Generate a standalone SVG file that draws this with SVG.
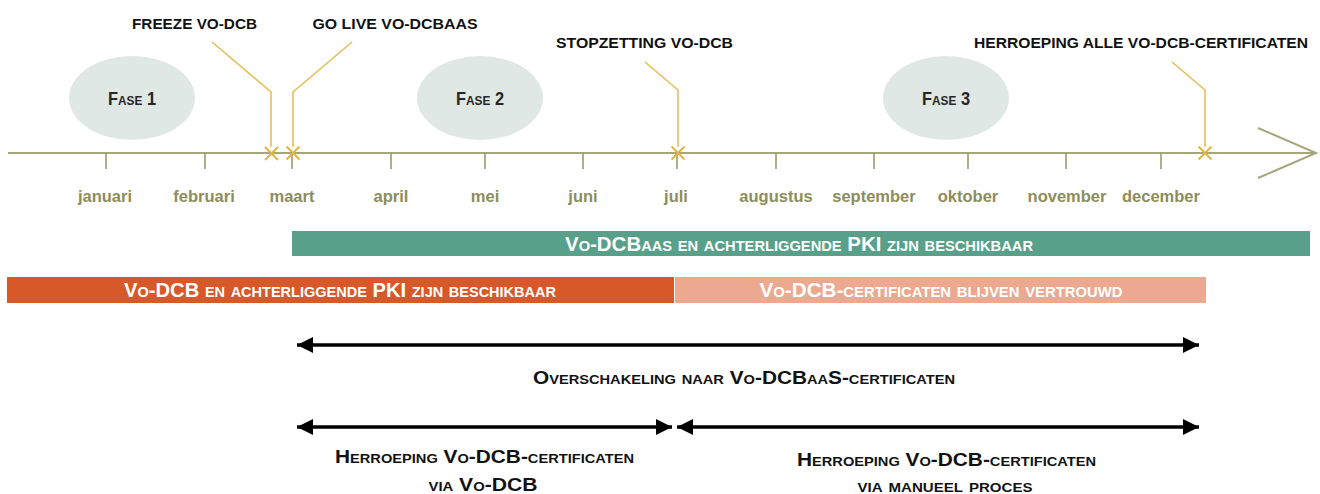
<svg xmlns="http://www.w3.org/2000/svg" width="1320" height="494" viewBox="0 0 1320 494">
<style>
.bg{fill:#ffffff}
.axis{stroke:#a4a67c;stroke-width:2;fill:none}
.tick{stroke:#9a9c6c;stroke-width:1.6}
.call{stroke:#e6bb52;stroke-width:1.5;fill:none}
.xm{stroke:#e3b444;stroke-width:2;fill:none}
.month{font-family:"Liberation Sans",Arial,sans-serif;font-weight:bold;font-size:16.5px;fill:#8c8d5a;text-anchor:middle}
.top{font-family:"Liberation Sans",Arial,sans-serif;font-weight:bold;font-size:15.5px;fill:#111111;text-anchor:middle}
.sc{font-family:"Liberation Sans",Arial,sans-serif;font-weight:bold;font-variant:small-caps;text-anchor:middle}
.fase{font-size:18px;fill:#262626}
.bar{font-size:19.5px;fill:#ffffff}
.lbl{font-size:18.5px;fill:#111111}
.ell{fill:#dfe8e4}
.arr{stroke:#000000;stroke-width:3.5;fill:none}
</style>
<defs>
<marker id="ah" markerUnits="userSpaceOnUse" markerWidth="16" markerHeight="16" refX="16" refY="8" orient="auto-start-reverse" viewBox="0 0 16 16">
<path d="M0,0 L16,8 L0,16 Z" fill="#000000"/>
</marker>
</defs>
<rect class="bg" x="0" y="0" width="1320" height="494"/>

<g id="phases">
<g id="fase1"><ellipse class="ell" cx="132" cy="98" rx="63" ry="42"/><text class="sc fase" x="132" y="104.5" textLength="48" lengthAdjust="spacingAndGlyphs">Fase 1</text></g>
<g id="fase2"><ellipse class="ell" cx="480" cy="98" rx="63" ry="42"/><text class="sc fase" x="480" y="104.5" textLength="48" lengthAdjust="spacingAndGlyphs">Fase 2</text></g>
<g id="fase3"><ellipse class="ell" cx="946" cy="98" rx="63" ry="42"/><text class="sc fase" x="946" y="104.5" textLength="48" lengthAdjust="spacingAndGlyphs">Fase 3</text></g>
</g>

<g id="timeline">
<line class="axis" x1="8" y1="153" x2="1316" y2="153"/>
<polyline class="axis" points="1258,128 1316,153 1258,178"/>
<g id="ticks">
<line class="tick" x1="106" y1="153" x2="106" y2="169"/>
<line class="tick" x1="205" y1="153" x2="205" y2="169"/>
<line class="tick" x1="292" y1="153" x2="292" y2="169"/>
<line class="tick" x1="391" y1="153" x2="391" y2="169"/>
<line class="tick" x1="485" y1="153" x2="485" y2="169"/>
<line class="tick" x1="583" y1="153" x2="583" y2="169"/>
<line class="tick" x1="677" y1="153" x2="677" y2="169"/>
<line class="tick" x1="776" y1="153" x2="776" y2="169"/>
<line class="tick" x1="874" y1="153" x2="874" y2="169"/>
<line class="tick" x1="968" y1="153" x2="968" y2="169"/>
<line class="tick" x1="1066" y1="153" x2="1066" y2="169"/>
<line class="tick" x1="1161" y1="153" x2="1161" y2="169"/>
</g>
<g id="months">
<text class="month" x="105" y="202">januari</text>
<text class="month" x="204" y="202">februari</text>
<text class="month" x="292" y="202">maart</text>
<text class="month" x="391" y="202">april</text>
<text class="month" x="485" y="202">mei</text>
<text class="month" x="583" y="202">juni</text>
<text class="month" x="676" y="202">juli</text>
<text class="month" x="776" y="202">augustus</text>
<text class="month" x="874" y="202">september</text>
<text class="month" x="968" y="202">oktober</text>
<text class="month" x="1067" y="202">november</text>
<text class="month" x="1161" y="202">december</text>
</g>
</g>

<g id="milestones">
<g id="freeze">
<polyline class="call" points="212,42 271,92 271,147"/>
<path class="xm" d="M265,147 L278,160 M278,147 L265,160"/>
<text class="top" x="194.5" y="28.5" textLength="125" lengthAdjust="spacingAndGlyphs">FREEZE VO-DCB</text>
</g>
<g id="golive">
<polyline class="call" points="352,42 293,92 293,147"/>
<path class="xm" d="M286.5,146.5 L299.5,159.5 M299.5,146.5 L286.5,159.5"/>
<text class="top" x="395" y="28.5" textLength="165" lengthAdjust="spacingAndGlyphs">GO LIVE VO-DCBAAS</text>
</g>
<g id="stopzetting">
<polyline class="call" points="645,62 678,90 678,147"/>
<path class="xm" d="M671.5,146.5 L684.5,159.5 M684.5,146.5 L671.5,159.5"/>
<text class="top" x="644.5" y="47.5" textLength="177" lengthAdjust="spacingAndGlyphs">STOPZETTING VO-DCB</text>
</g>
<g id="herroeping-alle">
<polyline class="call" points="1172,62 1205,90 1205,147"/>
<path class="xm" d="M1198.5,146.5 L1211.5,159.5 M1211.5,146.5 L1198.5,159.5"/>
<text class="top" x="1141" y="47.5" textLength="334" lengthAdjust="spacingAndGlyphs">HERROEPING ALLE VO-DCB-CERTIFICATEN</text>
</g>
</g>

<g id="bars">
<g id="bar-dcbaas"><rect x="292" y="231" width="1018" height="25" fill="#58a08a"/><text class="sc bar" x="799" y="250.5" textLength="468" lengthAdjust="spacingAndGlyphs">Vo-DCBaas en achterliggende PKI zijn beschikbaar</text></g>
<g id="bar-dcb"><rect x="7" y="277" width="667" height="26" fill="#d75828"/><text class="sc bar" x="340" y="297" textLength="432" lengthAdjust="spacingAndGlyphs">Vo-DCB en achterliggende PKI zijn beschikbaar</text></g>
<g id="bar-trust"><rect x="675" y="277" width="531" height="26" fill="#eca990"/><text class="sc bar" x="941" y="297" textLength="363" lengthAdjust="spacingAndGlyphs">Vo-DCB-certificaten blijven vertrouwd</text></g>
</g>

<g id="connectors">
<line class="arr" x1="297" y1="345" x2="1199" y2="345" marker-start="url(#ah)" marker-end="url(#ah)"/>
<line class="arr" x1="297" y1="427" x2="672" y2="427" marker-start="url(#ah)" marker-end="url(#ah)"/>
<line class="arr" x1="677" y1="427" x2="1199" y2="427" marker-start="url(#ah)" marker-end="url(#ah)"/>
</g>

<g id="labels">
<text class="sc lbl" x="744" y="383.5" textLength="422" lengthAdjust="spacingAndGlyphs">Overschakeling naar Vo-DCBaaS-certificaten</text>
<text class="sc lbl" x="484.5" y="462.5" textLength="299" lengthAdjust="spacingAndGlyphs">Herroeping Vo-DCB-certificaten</text>
<text class="sc lbl" x="483" y="490.5" textLength="109" lengthAdjust="spacingAndGlyphs">via Vo-DCB</text>
<text class="sc lbl" x="946.5" y="465.5" textLength="299" lengthAdjust="spacingAndGlyphs">Herroeping Vo-DCB-certificaten</text>
<text class="sc lbl" x="945" y="492" textLength="175" lengthAdjust="spacingAndGlyphs">via manueel proces</text>
</g>
</svg>
